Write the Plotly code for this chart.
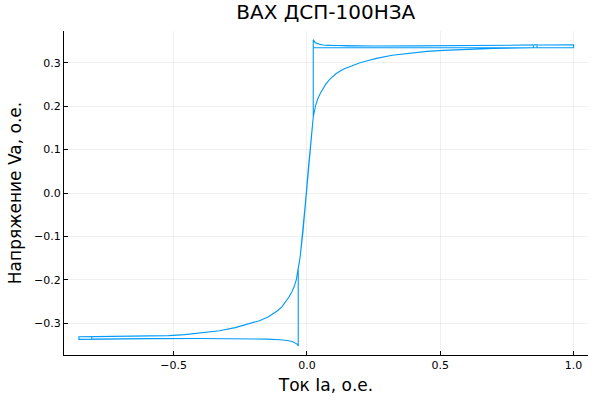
import plotly.graph_objects as go

# ---- data (current Ia, voltage Va, in p.u.) ----
# initial horizontal stretch at the start of the simulation
init_x = [0.0237, 0.5, 1.0]
init_y = [0.3345, 0.3345, 0.3345]

# decreasing-current branch, upper plateau with re-ignition spike
upper_x = [1.0, 0.863, 0.849, 0.7, 0.55, 0.4, 0.25, 0.15, 0.11, 0.08, 0.06, 0.05, 0.04, 0.032, 0.027, 0.0237]
upper_y = [0.3412, 0.3405, 0.3404, 0.3397, 0.3390, 0.3385, 0.3383, 0.3385, 0.3390, 0.3398, 0.3408, 0.3418, 0.3435, 0.3460, 0.3490, 0.3525]

# steep middle part traversed downward
mid_x = [0.0237, 0.015, 0.005, -0.005, -0.015, -0.025, -0.0326]
mid_y = [0.175, 0.125, 0.055, -0.018, -0.090, -0.145, -0.175]

# decreasing-current branch, lower plateau with spike
lower_x = [-0.0326, -0.037, -0.045, -0.055, -0.075, -0.10, -0.15, -0.25, -0.40, -0.589, -0.75, -0.807, -0.855]
lower_y = [-0.3520, -0.3480, -0.3450, -0.3420, -0.3395, -0.3378, -0.3365, -0.3355, -0.3350, -0.3352, -0.3360, -0.3364, -0.3370]

# increasing-current branch (S-shaped characteristic)
s_x = [-0.855, -0.807, -0.7, -0.608, -0.519, -0.458, -0.394, -0.328, -0.269, -0.238, -0.207, -0.178,
       -0.144, -0.118, -0.108, -0.094, -0.078, -0.068, -0.057, -0.048, -0.040, -0.0326, -0.025, -0.015,
       -0.005, 0.005, 0.015, 0.0237, 0.032, 0.040, 0.049, 0.060, 0.070, 0.086, 0.100, 0.110,
       0.136, 0.170, 0.199, 0.230, 0.261, 0.320, 0.386, 0.450, 0.511, 0.600, 0.700, 0.849, 0.863]
s_y = [-0.3310, -0.3308, -0.3304, -0.3300, -0.3285, -0.3260, -0.3220, -0.3170, -0.3100, -0.3050, -0.3000, -0.2940,
       -0.2850, -0.2750, -0.2700, -0.2620, -0.2500, -0.2400, -0.2280, -0.2160, -0.2000, -0.1750, -0.1450, -0.0900,
       -0.0180, 0.0550, 0.1250, 0.1750, 0.2000, 0.2160, 0.2280, 0.2400, 0.2500, 0.2620, 0.2700, 0.2750,
       0.2850, 0.2940, 0.3000, 0.3050, 0.3100, 0.3170, 0.3220, 0.3260, 0.3285, 0.3310, 0.3330, 0.3343, 0.3345]

x_ticks = [-0.5, 0.0, 0.5, 1.0]
x_ticklabels = ["\u22120.5", "0.0", "0.5", "1.0"]
y_ticks = [-0.3, -0.2, -0.1, 0.0, 0.1, 0.2, 0.3]
y_ticklabels = ["\u22120.3", "\u22120.2", "\u22120.1", "0.0", "0.1", "0.2", "0.3"]

title = "ВАХ ДСП-100НЗА"
x_label = "Ток Ia, о.е."
y_label = "Напряжение Va, о.е."


def seg(xs, ys, x_from=None, x_to=None):
    i0 = 0 if x_from is None else xs.index(x_from)
    i1 = len(xs) if x_to is None else xs.index(x_to) + 1
    return xs[i0:i1], ys[i0:i1]


path = [
    (init_x, init_y),
    seg(upper_x, upper_y, 1.0),
    (mid_x, mid_y),
    seg(lower_x, lower_y, None, -0.855),
    seg(s_x, s_y, -0.855, 0.863),
    seg(upper_x, upper_y, 0.863),
    (mid_x, mid_y),
    seg(lower_x, lower_y, None, -0.807),
    seg(s_x, s_y, -0.807, 0.849),
    ([0.849], [0.3404]),
]
X, Y = [], []
for xs, ys in path:
    X += list(xs)
    Y += list(ys)

fig = go.Figure(go.Scatter(x=X, y=Y, mode="lines",
                           line=dict(color="#009AFA", width=1.1),
                           showlegend=False, hoverinfo="skip"))

font = "DejaVu Sans"
axis_common = dict(showline=True, linecolor="#000000", linewidth=1,
                   ticks="inside", ticklen=4, tickcolor="#000000", tickwidth=1,
                   showgrid=True, gridcolor="rgba(0,0,0,0.06)", gridwidth=1,
                   zeroline=False, mirror=False, automargin=False,
                   tickfont=dict(family=font, size=11, color="#000000"))

fig.update_layout(
    width=600, height=400,
    margin=dict(l=64, r=12, t=31, b=45),
    paper_bgcolor="white", plot_bgcolor="white",
    title=dict(text=title, x=0.543, xanchor="center", y=1 - 12 / 400, yanchor="middle",
               yref="container", font=dict(family=font, size=20, color="#000000")),
    xaxis=dict(range=[-0.911, 1.054], tickvals=x_ticks, ticktext=x_ticklabels,
               title=dict(text=x_label, font=dict(family=font, size=17, color="#000000"), standoff=7),
               **axis_common),
    yaxis=dict(range=[-0.373, 0.373], tickvals=y_ticks, ticktext=y_ticklabels,
               title=dict(text=y_label, font=dict(family=font, size=17, color="#000000"), standoff=8),
               **axis_common),
)

fig.write_html("out.html", config={"displayModeBar": False},
               post_script="document.body.style.margin='0';")
